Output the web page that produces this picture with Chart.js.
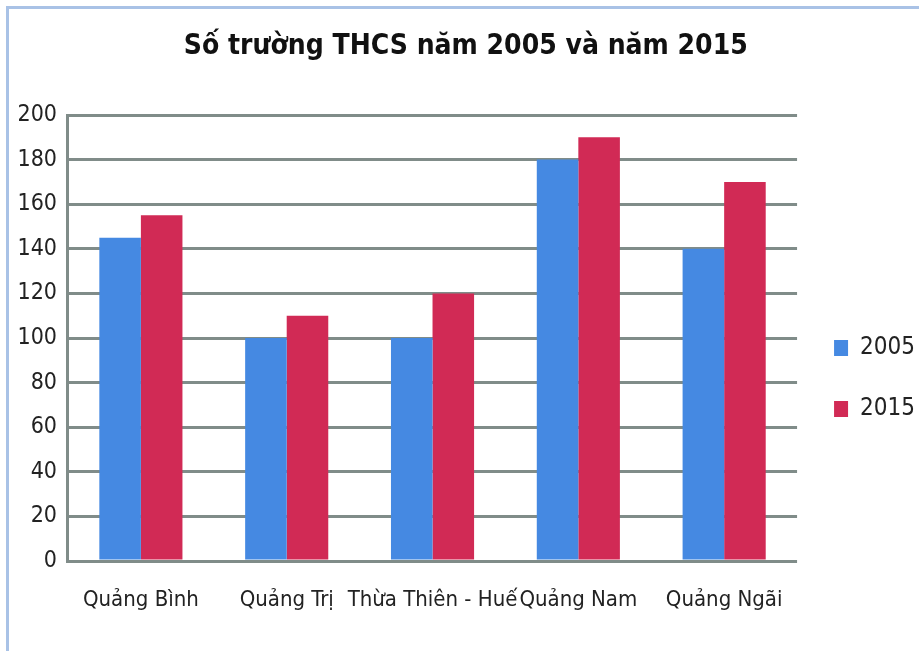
<!DOCTYPE html>
<html>
<head>
<meta charset="utf-8">
<script src="https://cdn.jsdelivr.net/npm/chart.js@4.4.1/dist/chart.umd.min.js"></script>
<style>
  html, body { margin: 0; padding: 0; background: #ffffff; overflow: hidden; }
  body { width: 919px; height: 651px; position: relative; }
  #wrap { position: absolute; left: 0; top: 0; width: 930px; height: 651px; }
  #frame { position: absolute; left: 6px; top: 6px; width: 940px; height: 700px;
           border-left: 3px solid #a9c2e6; border-top: 3px solid #a9c2e6; pointer-events: none; }
</style>
</head>
<body>
<div id="wrap"><canvas id="c" width="930" height="651"></canvas></div>
<div id="frame"></div>
<script>
const titleText = "Số trường THCS năm 2005 và năm 2015";
const categories = ["Quảng Bình", "Quảng Trị", "Thừa Thiên - Huế", "Quảng Nam", "Quảng Ngãi"];
const seriesNames = ["2005", "2015"];
const values2005 = [145, 100, 100, 180, 140];
const values2015 = [155, 110, 120, 190, 170];
const yTicks = [0, 20, 40, 60, 80, 100, 120, 140, 160, 180, 200];

const FONT = '"DejaVu Sans Condensed", "DejaVu Sans", sans-serif';
const GRID = '#808c89';

new Chart(document.getElementById('c'), {
  type: 'bar',
  data: {
    labels: categories,
    datasets: [
      { label: seriesNames[0], data: values2005, backgroundColor: '#4589e2', borderWidth: 0 },
      { label: seriesNames[1], data: values2015, backgroundColor: '#d12a55', borderWidth: 0 }
    ]
  },
  options: {
    responsive: false,
    animation: false,
    devicePixelRatio: 1,
    layout: { padding: { left: 6.5, right: 5, top: 0, bottom: 12 } },
    datasets: { bar: { categoryPercentage: 0.57, barPercentage: 1.0 } },
    plugins: {
      title: {
        display: true,
        text: titleText,
        color: '#111',
        font: { family: FONT, size: 28, weight: 'bold' },
        padding: { top: 30, bottom: 51.4 }
      },
      legend: {
        position: 'right',
        align: 'center',
        title: { display: true, text: '', padding: { top: 58.4, bottom: 58.4 }, font: { size: 1 } },
        labels: {
          color: '#222',
          font: { family: FONT, size: 24 },
          boxWidth: 14,
          boxHeight: 16,
          padding: 37
        }
      },
      tooltip: { enabled: false }
    },
    scales: {
      x: {
        grid: { display: false, drawTicks: false },
        border: { display: false },
        ticks: { color: '#222', font: { family: FONT, size: 22 }, padding: 25.8, maxRotation: 0, minRotation: 0, autoSkip: false }
      },
      y: {
        min: 0, max: 200,
        afterBuildTicks: (s) => { s.ticks = yTicks.map(v => ({ value: v })); },
        grid: { color: GRID, lineWidth: 3, drawTicks: false },
        border: { display: true, color: GRID, width: 3 },
        ticks: { color: '#222', font: { family: FONT, size: 23 }, padding: 11 }
      }
    }
  }
});
</script>
</body>
</html>
